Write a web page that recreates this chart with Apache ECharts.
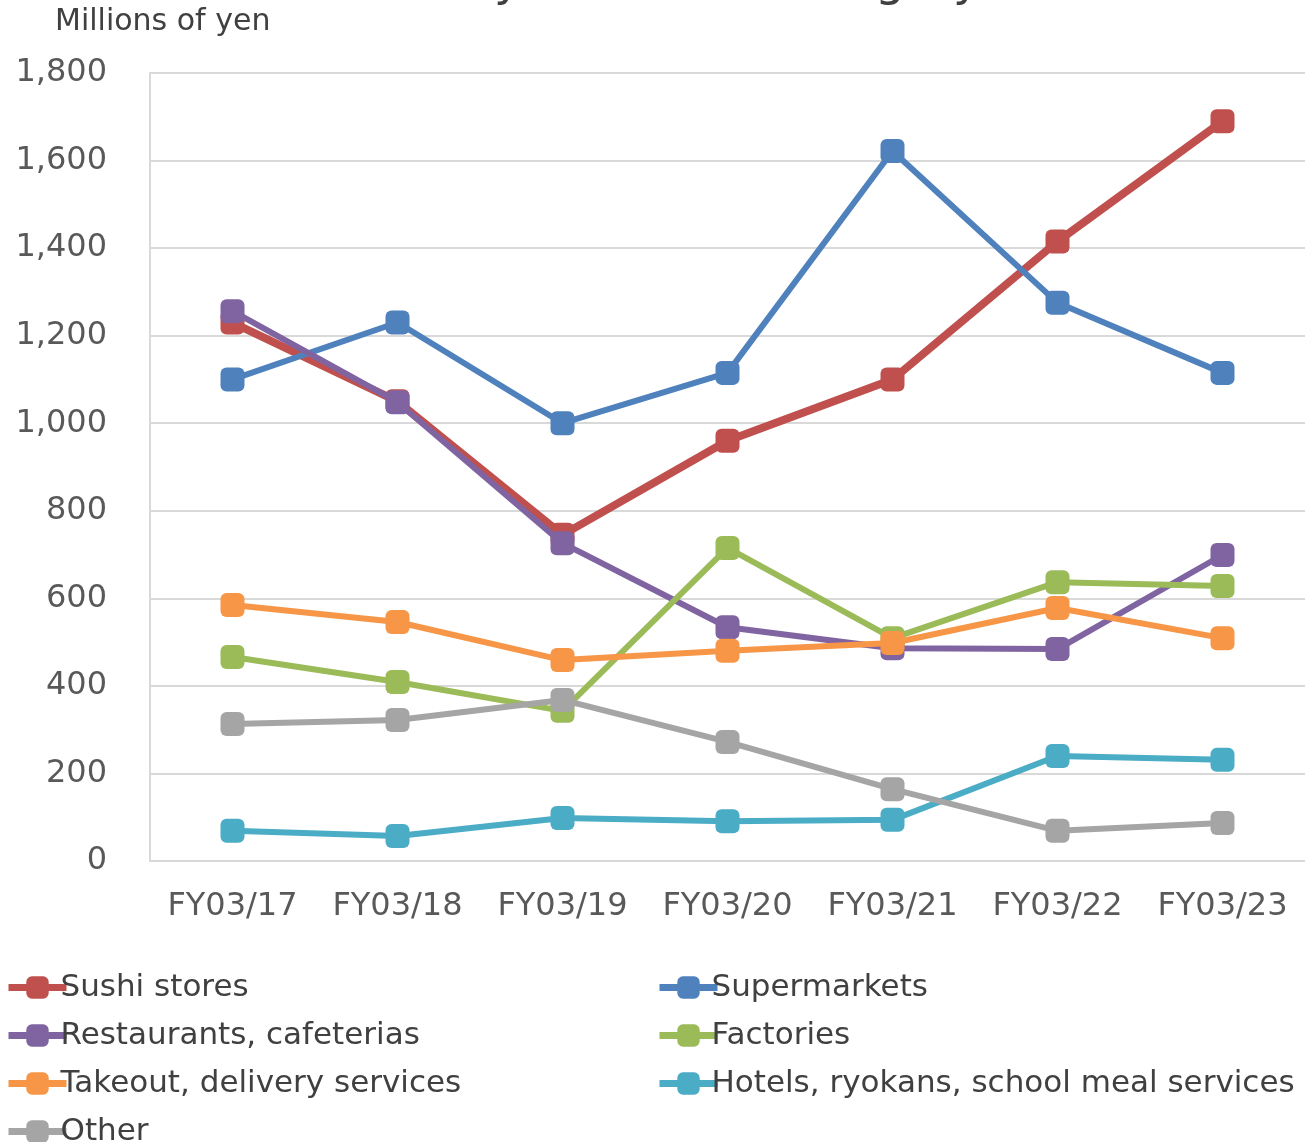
<!DOCTYPE html>
<html>
<head>
<meta charset="utf-8">
<script src="https://cdn.jsdelivr.net/npm/echarts@6/dist/echarts.min.js"></script>
<style>
html,body{margin:0;padding:0;background:#fff;}
#chart{width:1305px;height:1142px;}
</style>
</head>
<body>
<div id="chart"></div>
<script>
var categories = ['FY03/17','FY03/18','FY03/19','FY03/20','FY03/21','FY03/22','FY03/23'];
var sushiStores = [1230, 1050, 745, 960, 1100, 1415, 1690];
var supermarkets = [1100, 1230, 1000, 1115, 1622, 1275, 1115];
var restaurants = [1256, 1048, 726, 534, 486, 484, 699];
var factories = [466, 409, 343, 715, 509, 637, 628];
var takeout = [585, 546, 459, 480, 498, 578, 509];
var hotels = [69, 57, 98, 91, 94, 240, 231];
var other = [313, 322, 368, 272, 164, 69, 87];
var yTicks = [0, 200, 400, 600, 800, 1000, 1200, 1400, 1600, 1800];

var names = ['Sushi stores','Supermarkets','Restaurants, cafeterias','Factories','Takeout, delivery services','Hotels, ryokans, school meal services','Other'];
var colors = ['#C0504D','#4F81BD','#8064A2','#9BBB59','#F79646','#4BACC6','#A5A5A5'];
var datas = [sushiStores, supermarkets, restaurants, factories, takeout, hotels, other];
var widths = [8, 6, 6, 6, 6, 6, 6];

var font = 'DejaVu Sans';
var series = names.map(function(n, i){
  return {
    name: n, type: 'line', data: datas[i],
    symbol: 'roundRect', symbolSize: 24,
    z: 2 + i,
    itemStyle: {color: colors[i]},
    lineStyle: {color: colors[i], width: widths[i]},
    emphasis: {disabled: true},
    animation: false
  };
});

var legendBase = {
  orient: 'vertical',
  height: 230,
  itemWidth: 58, itemHeight: 28, itemGap: 17,
  lineStyle: {width: 7},
  textStyle: {fontFamily: font, fontSize: 31, color: '#404040', padding: [0,0,0,-11]},
  selectedMode: false
};

var chart = echarts.init(document.getElementById('chart'), null, {renderer: 'canvas'});
chart.setOption({
  animation: false,
  backgroundColor: '#ffffff',
  title: {
    text: 'Sales by customer category',
    left: 'center',
    top: -46,
    textStyle: {fontFamily: font, fontSize: 47, fontWeight: 'normal', color: '#404040'}
  },
  grid: {left: 150, right: 0, top: 73, bottom: 281, containLabel: false},
  legend: [
    Object.assign({}, legendBase, {left: 0, top: 967, data: [names[0], names[2], names[4], names[6]]}),
    Object.assign({}, legendBase, {left: 651, top: 967, data: [names[1], names[3], names[5]]})
  ],
  xAxis: {
    type: 'category', data: categories, boundaryGap: true,
    axisLine: {lineStyle: {color: '#d9d9d9', width: 2}},
    axisTick: {show: false},
    axisLabel: {fontFamily: font, fontSize: 32, color: '#595959', margin: 30, interval: 0, hideOverlap: false}
  },
  yAxis: {
    type: 'value', min: yTicks[0], max: yTicks[yTicks.length-1], interval: 200,
    name: 'Millions of yen', nameLocation: 'end', nameGap: 36,
    nameTextStyle: {fontFamily: font, fontSize: 30, color: '#404040', align: 'left', padding: [0,0,0,-95]},
    axisLine: {show: true, lineStyle: {color: '#d9d9d9', width: 2}},
    axisTick: {show: false},
    splitLine: {lineStyle: {color: '#d9d9d9', width: 2}},
    axisLabel: {fontFamily: font, fontSize: 32, color: '#595959', margin: 43,
      formatter: function(v){ return v.toLocaleString('en-US'); }}
  },
  series: series
});
</script>
</body>
</html>
